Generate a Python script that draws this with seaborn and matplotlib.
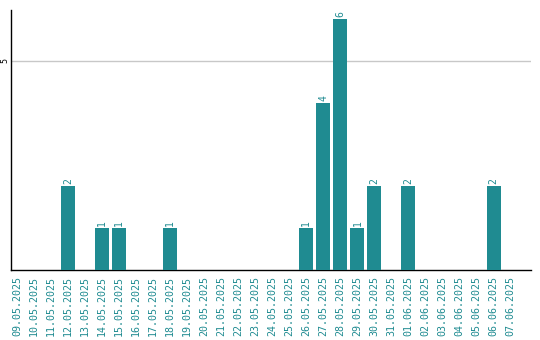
import matplotlib
matplotlib.use("Agg")
import matplotlib.pyplot as plt
import seaborn as sns
import pandas as pd

dates = ["09.05.2025", "10.05.2025", "11.05.2025", "12.05.2025", "13.05.2025",
         "14.05.2025", "15.05.2025", "16.05.2025", "17.05.2025", "18.05.2025",
         "19.05.2025", "20.05.2025", "21.05.2025", "22.05.2025", "23.05.2025",
         "24.05.2025", "25.05.2025", "26.05.2025", "27.05.2025", "28.05.2025",
         "29.05.2025", "30.05.2025", "31.05.2025", "01.06.2025", "02.06.2025",
         "03.06.2025", "04.06.2025", "05.06.2025", "06.06.2025", "07.06.2025"]
counts = [0, 0, 0, 2, 0, 1, 1, 0, 0, 1,
          0, 0, 0, 0, 0, 0, 0, 1, 4, 6,
          1, 2, 0, 2, 0, 0, 0, 0, 2, 0]
y_ticks = [5]

teal = "#1f8b91"
df = pd.DataFrame({"date": dates, "count": counts})

sns.set_theme(style="white")
plt.rcParams['font.family'] = ['DejaVu Sans Mono', 'DejaVu Sans']

fig = plt.figure(figsize=(5.4, 3.4), dpi=100)
ax = fig.add_axes([11/540, 70/340, 520/540, 260/340])

sns.barplot(data=df, x="date", y="count", color=teal, saturation=1,
            width=0.82, linewidth=0, ax=ax, zorder=3)

for i, v in enumerate(counts):
    if v > 0:
        ax.text(i, v + 0.05, str(v), rotation=90, ha="center", va="bottom",
                color=teal, fontsize=7)

ax.set_xlim(-0.35, 30.2)
ax.set_ylim(0, 6.22)
ax.set_yticks(y_ticks)
ax.set_yticklabels([str(t) for t in y_ticks], rotation=90, va="center",
                   fontsize=6, color="black")
ax.yaxis.grid(True, color="#c8c8c8", linewidth=1, zorder=0)
ax.xaxis.grid(False)
ax.tick_params(axis="x", length=0, pad=4, labelsize=7.2, labelcolor=teal,
               rotation=90)
ax.tick_params(axis="y", length=0, pad=1.5)
ax.set_xlabel("")
ax.set_ylabel("")
for s in ["top", "right"]:
    ax.spines[s].set_visible(False)
for s in ["left", "bottom"]:
    ax.spines[s].set_color("black")
    ax.spines[s].set_linewidth(1.0)

fig.savefig("out.png", dpi=100)
